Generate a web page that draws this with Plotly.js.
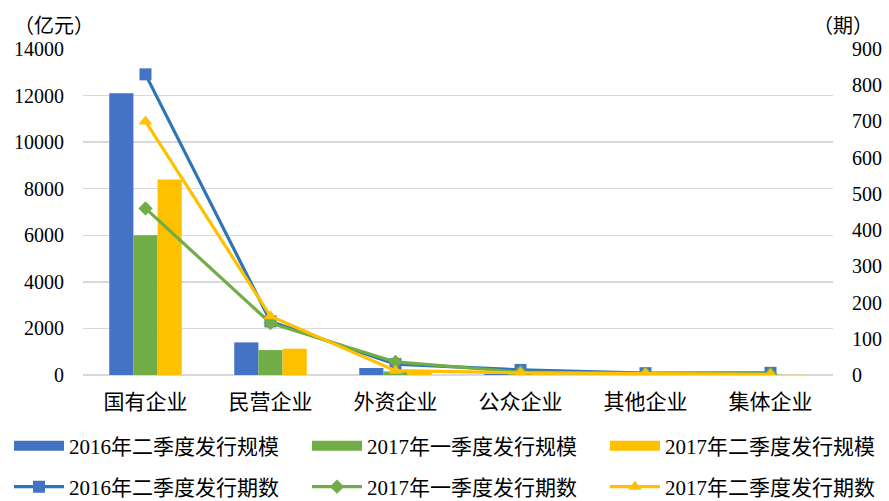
<!DOCTYPE html>
<html>
<head>
<meta charset="utf-8">
<script src="https://cdn.plot.ly/plotly-3.0.1.min.js"></script>
<style>html,body{margin:0;padding:0;background:#fff;}#chart{width:889px;height:501px;}</style>
</head>
<body>
<div id="chart"></div>
<script>
var categories = ["国有企业", "民营企业", "外资企业", "公众企业", "其他企业", "集体企业"];
var scale2016Q2 = [12100, 1400, 300, 60, 30, 20];
var scale2017Q1 = [6000, 1070, 150, 40, 20, 10];
var scale2017Q2 = [8400, 1130, 130, 50, 25, 10];
var count2016Q2 = [830, 148, 30, 14, 5, 6];
var count2017Q1 = [460, 143, 36, 8, 4, 3];
var count2017Q2 = [700, 162, 12, 6, 4, 2];
var leftTicks = [0, 2000, 4000, 6000, 8000, 10000, 12000, 14000];
var rightTicks = [0, 100, 200, 300, 400, 500, 600, 700, 800, 900];
var barNames = ["2016年二季度发行规模", "2017年一季度发行规模", "2017年二季度发行规模"];
var lineNames = ["2016年二季度发行期数", "2017年一季度发行期数", "2017年二季度发行期数"];

var FONT = "'Liberation Serif', 'Noto Sans CJK SC', serif";
var CJK = "'Noto Sans CJK SC', sans-serif";
var barColors = ["#4472C4", "#70AD47", "#FFC000"];
var lineColors = ["#2E75B6", "#70AD47", "#FFC000"];
var legendIds = ["legend", "legend2", "legend3", "legend4", "legend5", "legend6"];

var traces = [];
[scale2016Q2, scale2017Q1, scale2017Q2].forEach(function (vals, i) {
  traces.push({type: "bar", name: barNames[i], x: categories, y: vals,
    marker: {color: barColors[i]}, showlegend: false});
});
var symbols = ["square", "diamond", "triangle-up"];
var sizes = [12, 11, 12];
[count2016Q2, count2017Q1, count2017Q2].forEach(function (vals, i) {
  traces.push({type: "scatter", mode: "lines+markers", name: lineNames[i], x: categories, y: vals, yaxis: "y2",
    line: {color: lineColors[i], width: 3.2}, marker: {symbol: symbols[i], size: sizes[i], color: barColors[i]},
    legend: legendIds[3 + i]});
});
// legend swatches for bar series (wide rectangle like the reference)
barNames.forEach(function (n, i) {
  traces.push({type: "scatter", mode: "lines", name: n, x: [null], y: [null],
    line: {color: barColors[i], width: 12}, legend: legendIds[i], hoverinfo: "skip"});
});

var itemX = [9, 307, 605];
var rowY = [446, 487];
var layout = {
  width: 889, height: 501,
  margin: {l: 83, r: 56, t: 49, b: 126},
  paper_bgcolor: "#fff", plot_bgcolor: "#fff",
  barmode: "group", bargap: 0.42, bargroupgap: 0,
  font: {family: FONT, size: 20, color: "#000"},
  xaxis: {
    tickfont: {family: CJK, size: 21, color: "#000"}, ticklabelstandoff: 12,
    showgrid: false, showline: false, ticks: "", fixedrange: true
  },
  yaxis: {
    range: [0, 14000], tickvals: leftTicks, ticktext: leftTicks.map(String),
    showgrid: true, gridcolor: "#D9D9D9", gridwidth: 1.5,
    zeroline: true, zerolinecolor: "#D9D9D9", zerolinewidth: 1.5,
    tickfont: {family: FONT, size: 20, color: "#000"}, ticklabelstandoff: 18
  },
  yaxis2: {
    overlaying: "y", side: "right", range: [0, 900], tickvals: rightTicks,
    showgrid: false, zeroline: false,
    tickfont: {family: FONT, size: 20, color: "#000"}, ticklabelstandoff: 18
  },
  annotations: [
    {text: "（亿元）", xref: "paper", yref: "paper", x: -0.095, y: 1.0, yshift: 8, xanchor: "left", yanchor: "bottom",
     showarrow: false, font: {family: CJK, size: 20, color: "#000"}},
    {text: "（期）", xref: "paper", yref: "paper", x: 1.0, xshift: 42, y: 1.0, yshift: 8, xanchor: "right", yanchor: "bottom",
     showarrow: false, font: {family: CJK, size: 20, color: "#000"}}
  ]
};
legendIds.forEach(function (id, k) {
  var col = k % 3, row = Math.floor(k / 3);
  layout[id] = {
    orientation: "h", xref: "container", yref: "container",
    x: itemX[col] / 889, y: 1 - rowY[row] / 501, yanchor: "middle", xanchor: "left",
    itemwidth: 50, font: {family: FONT, size: 21, color: "#000"}, bgcolor: "rgba(0,0,0,0)"
  };
});

Plotly.newPlot("chart", traces, layout, {displayModeBar: false, staticPlot: true});
</script>
</body>
</html>
